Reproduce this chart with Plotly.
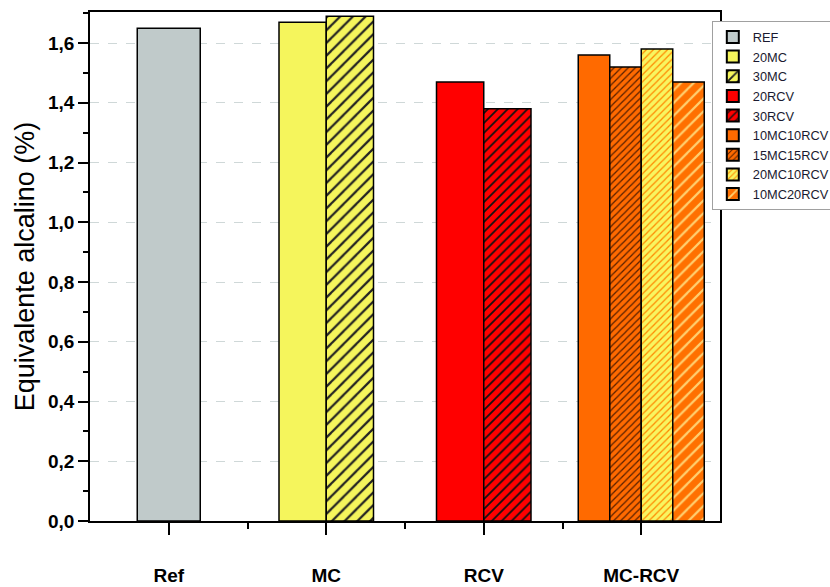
import plotly.graph_objects as go

categories = ["Ref", "MC", "RCV", "MC-RCV"]
series_names = ["REF", "20MC", "30MC", "20RCV", "30RCV",
                "10MC10RCV", "15MC15RCV", "20MC10RCV", "10MC20RCV"]
series_group = ["Ref", "MC", "MC", "RCV", "RCV",
                "MC-RCV", "MC-RCV", "MC-RCV", "MC-RCV"]
values = [1.65, 1.67, 1.69, 1.47, 1.38, 1.56, 1.52, 1.58, 1.47]
y_ticks = [0.0, 0.2, 0.4, 0.6, 0.8, 1.0, 1.2, 1.4, 1.6]

# styles: (bg color, pattern shape, pattern fg color, pattern size)
styles = {
    "REF": ("#C0CACA", "", None, 8),
    "20MC": ("#F5F55C", "", None, 8),
    "30MC": ("#F5F55C", "/", "#222222", 9),
    "20RCV": ("#FF0000", "", None, 8),
    "30RCV": ("#FF0000", "/", "#111111", 7),
    "10MC10RCV": ("#FF6A00", "", None, 8),
    "15MC15RCV": ("#FF6A00", "/", "#5A2000", 5),
    "20MC10RCV": ("#F8F560", "/", "#FF8A00", 5),
    "10MC20RCV": ("#FF7000", "/", "#FFD070", 9),
}
bar_width = {"Ref": 0.4, "MC": 0.3, "RCV": 0.3, "MC-RCV": 0.2}

FONT = "Liberation Sans, Arial, sans-serif"

fig = go.Figure()
for name, grp, val in zip(series_names, series_group, values):
    members = [n for n, g in zip(series_names, series_group) if g == grp]
    n = len(members)
    i = members.index(name)
    w = bar_width[grp]
    xc = categories.index(grp) + 0.5
    bg, shape, fg, size = styles[name]
    pattern = dict(shape=shape, bgcolor=bg, size=size, solidity=0.25)
    if fg:
        pattern["fgcolor"] = fg
        pattern["fillmode"] = "replace"
    fig.add_trace(go.Bar(
        x=[xc], y=[val], name=name,
        width=w, offset=-n * w / 2 + i * w,
        marker=dict(color=bg, line=dict(color="black", width=1.5),
                    pattern=pattern),
    ))

fig.update_layout(
    width=830, height=587,
    margin=dict(l=90, r=110, t=12, b=66, autoexpand=False),
    paper_bgcolor="white", plot_bgcolor="white",
    barmode="overlay",
    separators=",.",
    font=dict(family=FONT, color="black"),
    showlegend=True,
    legend=dict(x=0.987, y=0.982, xanchor="left", yanchor="top",
                bgcolor="white", bordercolor="#A0A0A0", borderwidth=1,
                font=dict(size=12.8, family=FONT, color="#1A1A30"),
                tracegroupgap=0, itemsizing="constant"),
)

fig.update_xaxes(
    range=[0, 4], tickmode="array",
    tickvals=[k + 0.5 for k in range(len(categories))], ticktext=categories,
    ticks="outside", ticklen=12, tickwidth=1.5, tickcolor="black",
    showline=True, linecolor="black", linewidth=1.5, mirror=True,
    showgrid=False, zeroline=False,
    tickfont=dict(size=19, family=FONT, weight="bold"),
    ticklabelstandoff=24,
    minor=dict(tickvals=[1, 2, 3], ticks="outside", ticklen=6,
               tickcolor="black", tickwidth=1.5, showgrid=False),
)
fig.update_yaxes(
    range=[0, 1.704], tickmode="array", tickvals=y_ticks,
    tickformat=".1f",
    ticks="outside", ticklen=10, tickwidth=1.5, tickcolor="black",
    showline=True, linecolor="black", linewidth=1.5, mirror=True,
    showgrid=True, gridcolor="#CFD8D8", griddash="dash", gridwidth=1,
    zeroline=False,
    tickfont=dict(size=19, family=FONT, weight="bold"),
    title=dict(text="Equivalente alcalino (%)", font=dict(size=27, family=FONT),
               standoff=6),
    minor=dict(tick0=0.1, dtick=0.2, ticks="outside", ticklen=5,
               tickcolor="black", tickwidth=1.5, showgrid=False),
)

fig.write_html("out.html")
